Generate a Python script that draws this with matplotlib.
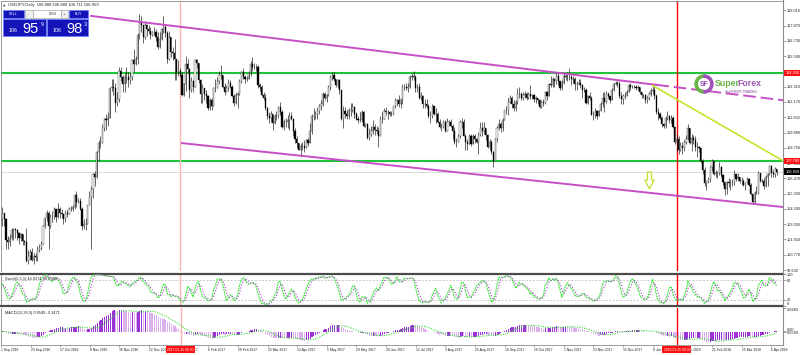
import numpy as np
import pandas as pd
import matplotlib
matplotlib.use("Agg")
import matplotlib.pyplot as plt
from matplotlib.lines import Line2D
from matplotlib.patches import Rectangle, Wedge
from matplotlib.path import Path
from matplotlib.transforms import blended_transform_factory as blend

plt.rcParams["font.family"] = ["Liberation Sans", "DejaVu Sans"]

W, H = 800, 355

# ── USDJPY daily bars from 1 Sep 2016, one row per month ─────────────────────
first_open = 103.0
closes = [
    103.4, 103.9, 103.4, 101.9, 101.7, 102.0, 102.6, 102.7, 102.6, 102.4, 102.0, 102.3, 101.8, 101.7, 100.3, 100.7, 101.0, 100.4, 100.7, 100.6, 101.1, 101.3,
    101.6, 102.9, 103.5, 103.9, 102.9, 103.6, 103.6, 104.2, 103.6, 104.2, 103.9, 103.8, 103.4, 103.9, 103.8, 104.2, 104.2, 104.3, 105.2, 104.7, 104.8,
    104.2, 102.9, 103.1, 103.1, 104.5, 105.1, 105.7, 106.8, 106.6, 108.4, 109.1, 109.1, 110.2, 110.9, 110.8, 111.0, 113.2, 113.3, 113.2, 112.1, 112.4, 114.5,
    114.0, 113.5, 114.0, 114.0, 113.8, 114.0, 115.3, 115.0, 115.4, 117.2, 118.1, 117.9, 117.0, 117.9, 117.6, 117.5, 117.2, 117.4, 117.4, 117.0, 116.3, 116.9,
    117.6, 117.8, 117.3, 115.4, 117.0, 115.9, 115.8, 115.4, 114.4, 114.5, 114.2, 112.7, 113.5, 115.0, 114.6, 113.1, 113.7, 113.3, 115.3, 115.1, 113.8, 112.8,
    113.2, 112.8, 112.6, 111.7, 112.3, 111.9, 113.2, 113.2, 113.7, 114.2, 114.2, 113.3, 112.9, 113.2, 113.6, 113.3, 112.6, 112.1, 112.7, 112.8,
    113.7, 114.4, 114.0, 113.9, 113.9, 114.3, 115.0, 114.8, 114.8, 114.8, 113.4, 113.3, 112.7, 112.5, 111.7, 111.1, 111.0, 111.3, 110.6, 111.1, 111.1, 111.8, 111.4,
    110.3, 110.7, 110.7, 110.8, 111.1, 110.9, 110.0, 109.4, 109.1, 108.6, 108.9, 108.9, 108.7, 109.3, 109.1, 110.0, 111.1, 111.1, 111.3, 111.5,
    111.9, 112.0, 112.8, 112.5, 112.7, 113.3, 114.0, 114.2, 113.9, 113.4, 113.8, 113.1, 110.9, 111.5, 111.3, 111.1, 111.6, 111.6, 111.8, 111.3, 110.9, 110.8, 110.8,
    111.4, 110.4, 110.5, 109.5, 109.8, 110.0, 110.3, 110.1, 110.0, 109.6, 110.9, 110.9, 111.5, 111.4, 111.4, 111.3, 111.3, 111.9, 112.3, 112.3, 112.0, 112.4,
    113.3, 113.3, 113.2, 113.3, 114.0, 114.1, 114.0, 113.2, 113.3, 112.5, 112.6, 112.0, 112.0, 111.9, 111.1, 111.1, 111.9, 111.3, 111.3, 110.7, 110.3,
    110.3, 110.7, 110.0, 110.7, 110.7, 110.4, 110.0, 109.2, 109.2, 109.6, 110.7, 110.7, 109.6, 109.2, 109.0, 109.6, 109.0, 109.6, 109.4, 109.2, 109.7, 110.2, 110.0,
    110.2, 109.7, 108.8, 109.2, 108.4, 107.8, 109.4, 110.2, 110.5, 110.2, 110.8, 111.6, 111.6, 112.2, 112.5, 112.0, 111.7, 112.2, 112.8, 112.8, 112.5,
    112.7, 112.8, 112.5, 112.8, 112.6, 112.7, 112.4, 112.5, 112.3, 111.8, 112.2, 112.1, 112.9, 112.6, 113.5, 113.4, 113.9, 113.7, 114.1, 113.7, 113.2, 113.6,
    114.1, 114.0, 114.0, 114.0, 113.9, 113.9, 113.5, 113.5, 113.6, 113.4, 113.1, 113.1, 112.1, 112.6, 112.5, 111.2, 111.2, 111.5, 111.1, 111.5, 112.0, 112.5,
    112.2, 112.8, 112.6, 112.3, 113.1, 113.5, 113.6, 113.5, 112.6, 112.4, 112.6, 112.6, 112.9, 113.4, 113.3, 113.3, 113.3, 113.2, 113.3, 112.9, 112.7,
    112.7, 112.3, 112.5, 112.8, 113.0, 113.1, 112.6, 111.4, 111.3, 111.0, 110.5, 110.4, 111.0, 111.1, 110.8, 111.0, 110.3, 109.2, 109.4, 108.6, 108.9, 108.7, 109.2,
    109.4, 110.2, 109.1, 109.5, 109.3, 108.8, 108.8, 108.7, 107.8, 107.1, 106.1, 106.3, 106.4, 107.3, 107.8, 106.8, 106.9, 106.9, 107.3, 106.7,
    106.2, 105.7, 106.2, 106.1, 106.1, 106.2, 106.8, 106.4, 106.6, 106.3, 106.3, 106.0, 106.1, 106.4, 106.0, 105.3, 104.7, 105.4, 105.4, 106.9, 106.3, 106.3,
    105.9, 106.6, 106.8, 107.4, 106.9, 106.8, 107.2, 106.96,
]
highs = [
    103.8, 104.3, 103.9, 103.5, 102.2, 102.3, 102.8, 102.8, 102.8, 102.7, 102.5, 102.4, 102.3, 101.9, 102.8, 101.1, 101.2, 101.3, 100.9, 100.9, 101.4, 101.6,
    101.8, 103.0, 103.5, 104.1, 104.0, 103.8, 104.0, 104.3, 104.2, 104.6, 104.3, 104.2, 103.9, 104.1, 104.1, 104.3, 104.4, 104.5, 105.3, 105.5, 105.0,
    105.0, 104.3, 103.4, 103.5, 104.5, 105.5, 105.9, 106.9, 107.0, 108.5, 109.3, 109.6, 110.5, 111.0, 111.3, 111.4, 113.2, 113.9, 113.9, 113.6, 112.9, 114.8,
    114.8, 114.2, 114.3, 114.8, 114.4, 114.3, 115.4, 116.1, 115.6, 117.3, 118.7, 118.6, 117.9, 118.2, 118.0, 117.9, 117.8, 117.5, 117.8, 117.6, 117.4, 117.4,
    117.7, 118.6, 118.0, 117.5, 117.5, 117.0, 116.3, 116.9, 115.2, 115.3, 114.7, 114.4, 113.6, 115.6, 115.4, 114.7, 114.0, 113.8, 115.4, 115.4, 115.1, 113.9,
    113.5, 113.2, 113.1, 112.7, 112.5, 112.5, 113.3, 113.9, 114.0, 114.5, 114.9, 114.2, 113.6, 113.4, 113.9, 113.8, 113.4, 112.8, 112.9, 112.9,
    113.9, 114.5, 114.7, 114.2, 114.1, 114.5, 115.2, 115.5, 115.1, 115.0, 114.9, 113.6, 113.4, 112.9, 112.8, 111.8, 111.4, 111.5, 111.3, 111.3, 111.5, 111.9, 112.2,
    111.6, 110.9, 111.0, 111.2, 111.4, 111.4, 111.0, 110.2, 109.6, 109.1, 109.1, 109.2, 109.3, 109.4, 109.5, 110.6, 111.3, 111.7, 111.5, 111.8,
    112.0, 112.3, 112.9, 112.9, 112.8, 113.4, 114.2, 114.4, 114.4, 113.9, 113.9, 113.9, 113.1, 111.9, 111.8, 111.6, 111.7, 112.1, 112.1, 111.9, 111.4, 111.1, 111.4,
    111.6, 111.5, 110.6, 110.6, 110.2, 110.4, 110.8, 110.5, 110.4, 110.3, 111.1, 111.4, 111.7, 111.8, 111.6, 111.5, 111.5, 111.9, 112.5, 112.4, 112.7, 112.4,
    113.5, 113.5, 113.6, 113.6, 114.2, 114.3, 114.5, 114.2, 113.5, 113.6, 112.9, 112.7, 112.4, 112.4, 112.0, 111.5, 112.0, 111.9, 111.7, 111.4, 110.9,
    110.6, 110.8, 110.8, 111.0, 110.8, 110.9, 110.5, 110.3, 109.5, 109.8, 110.8, 111.0, 110.9, 109.8, 109.4, 109.8, 109.8, 109.8, 109.8, 109.5, 109.9, 110.7, 110.7,
    110.7, 110.1, 109.8, 109.4, 109.3, 108.5, 109.5, 110.4, 110.9, 110.7, 111.0, 111.6, 111.9, 112.5, 112.7, 112.6, 112.3, 112.3, 113.2, 113.3, 112.9,
    112.9, 113.0, 112.9, 112.9, 113.4, 112.8, 112.8, 112.6, 112.4, 112.4, 112.3, 112.4, 113.0, 113.0, 113.6, 114.1, 114.0, 113.9, 114.3, 114.4, 113.7, 113.8,
    114.3, 114.3, 114.4, 114.7, 114.2, 114.1, 114.0, 113.7, 113.9, 113.9, 113.5, 113.3, 113.2, 112.7, 112.9, 112.6, 111.5, 111.7, 111.6, 111.6, 112.2, 112.9,
    112.9, 113.0, 112.9, 112.6, 113.2, 113.6, 113.7, 113.7, 113.7, 112.9, 112.8, 112.9, 113.1, 113.5, 113.6, 113.4, 113.4, 113.4, 113.4, 113.3, 112.9,
    112.8, 112.8, 112.6, 112.9, 113.2, 113.4, 113.3, 112.8, 111.7, 111.4, 111.1, 110.6, 111.1, 111.5, 111.2, 111.2, 111.1, 110.4, 109.8, 109.6, 109.2, 109.2, 109.3,
    109.7, 110.5, 110.2, 109.8, 109.7, 109.6, 109.2, 108.9, 108.8, 107.9, 107.3, 106.3, 106.6, 107.4, 107.9, 107.8, 107.1, 107.0, 107.7, 107.4,
    106.8, 106.1, 106.3, 106.5, 106.4, 106.4, 107.1, 106.8, 106.9, 106.6, 106.6, 106.4, 106.2, 106.6, 106.5, 106.1, 105.3, 105.5, 105.9, 107.0, 106.9, 106.4,
    106.5, 106.7, 106.9, 107.5, 107.5, 107.1, 107.3, 107.2,
]
lows = [
    102.8, 102.9, 102.9, 101.2, 101.2, 101.4, 101.9, 101.9, 102.0, 101.9, 101.6, 101.8, 101.5, 101.5, 100.2, 100.1, 100.4, 100.3, 100.1, 100.3, 100.3, 101.0,
    101.1, 101.6, 102.8, 103.3, 101.2, 102.8, 103.2, 103.4, 103.2, 103.5, 103.5, 103.5, 103.1, 103.2, 103.6, 103.8, 104.0, 104.0, 104.2, 104.3, 104.6,
    104.1, 102.6, 102.7, 102.6, 103.4, 104.5, 101.2, 105.0, 105.9, 106.5, 107.8, 108.7, 109.1, 110.0, 110.1, 110.4, 111.1, 113.0, 112.7, 111.4, 111.9, 112.2,
    113.7, 112.9, 112.9, 113.6, 113.3, 113.5, 113.8, 114.4, 114.9, 115.0, 116.9, 117.4, 116.6, 116.9, 117.1, 117.3, 116.9, 117.1, 117.2, 116.7, 116.1, 116.2,
    116.8, 117.3, 117.0, 115.1, 115.3, 115.5, 115.3, 113.8, 113.8, 114.1, 114.0, 112.6, 112.6, 113.0, 114.3, 112.5, 112.9, 112.9, 113.3, 114.7, 113.6, 112.1,
    112.1, 112.3, 112.1, 111.6, 111.6, 111.6, 111.9, 112.9, 113.2, 113.5, 113.9, 113.2, 112.7, 112.9, 113.0, 113.2, 112.6, 111.9, 112.0, 111.7,
    112.7, 113.6, 113.9, 113.6, 113.7, 113.9, 114.1, 114.5, 114.6, 114.5, 113.2, 113.0, 112.6, 112.3, 111.6, 110.9, 110.6, 110.7, 110.1, 110.5, 110.8, 111.0, 111.2,
    110.2, 110.1, 110.3, 110.2, 110.1, 110.8, 109.6, 109.1, 108.7, 108.6, 108.1, 108.6, 108.4, 108.7, 108.9, 109.2, 109.8, 110.8, 110.9, 110.9,
    111.3, 111.6, 111.9, 112.3, 112.2, 112.6, 113.1, 113.8, 113.7, 113.3, 113.2, 112.8, 110.8, 110.2, 111.0, 110.9, 110.9, 111.1, 111.4, 111.0, 110.8, 110.6, 110.7,
    110.7, 110.3, 110.3, 109.4, 109.3, 109.6, 109.8, 109.7, 109.8, 108.8, 109.6, 110.6, 110.9, 111.2, 110.9, 111.1, 111.1, 111.2, 111.7, 111.9, 111.8, 111.7,
    112.0, 113.1, 113.1, 112.9, 113.2, 113.8, 113.8, 112.9, 112.9, 112.4, 112.3, 111.7, 111.7, 111.7, 111.0, 110.6, 111.0, 111.2, 110.6, 110.6, 110.2,
    110.0, 110.2, 109.9, 110.0, 110.4, 110.3, 109.4, 109.0, 108.8, 109.3, 109.5, 110.2, 109.6, 108.6, 108.6, 109.0, 108.9, 109.1, 109.1, 109.1, 108.3, 109.6, 109.6,
    109.8, 109.3, 108.7, 108.6, 108.3, 107.3, 107.8, 109.2, 110.1, 109.9, 110.0, 110.8, 111.3, 111.2, 112.1, 111.7, 111.5, 111.5, 112.0, 112.5, 112.3,
    112.3, 112.5, 112.3, 112.4, 112.4, 112.4, 112.2, 112.1, 112.0, 111.7, 111.7, 111.9, 112.0, 112.3, 112.6, 113.3, 113.3, 113.3, 113.5, 113.4, 113.1, 113.1,
    113.5, 113.8, 113.7, 113.8, 113.4, 113.6, 113.1, 113.1, 113.4, 113.2, 112.5, 112.9, 112.0, 112.0, 112.3, 111.2, 110.8, 111.0, 110.9, 111.1, 111.6, 111.8,
    111.4, 112.1, 112.5, 112.1, 112.3, 113.0, 113.4, 113.3, 112.5, 112.0, 112.0, 112.4, 112.6, 112.9, 113.1, 113.2, 113.2, 113.1, 113.1, 112.8, 112.5,
    112.5, 112.1, 112.1, 112.3, 112.6, 112.8, 112.4, 111.3, 110.8, 110.9, 110.3, 110.2, 110.2, 110.8, 110.6, 110.6, 110.2, 109.0, 108.5, 108.3, 108.5, 108.3, 108.5,
    109.0, 109.3, 109.0, 108.5, 109.0, 108.5, 108.1, 108.4, 107.6, 106.8, 105.9, 105.6, 106.1, 106.2, 107.0, 106.7, 106.6, 106.5, 106.7, 106.6,
    106.0, 105.2, 105.3, 105.8, 105.6, 105.9, 106.0, 106.3, 106.3, 106.1, 106.0, 105.9, 105.6, 106.1, 105.9, 105.2, 104.6, 104.6, 105.3, 105.3, 106.2, 106.2,
    105.7, 105.8, 105.9, 106.7, 106.6, 106.6, 106.6, 106.7,
]

price_ticks = [99.63, 100.77, 101.91, 103.05, 104.19, 105.33, 106.47, 107.61, 108.75,
               109.89, 111.03, 112.17, 113.31, 114.45, 115.59, 116.73, 117.87, 119.01]
green_levels = [114.33, 107.76]
bid_price = 106.959
upper_channel = [("2016-11-09", 118.59), ("2018-01-10", 113.45)]
lower_channel = [("2017-01-17", 109.10), ("2018-03-23", 104.57)]
fan_line = [("2018-01-08", 113.40), ("2018-04-11", 108.05)]
arrow_point = ("2018-01-04", 106.31)
marker_lines = [("2017-01-16", "2017.01.16 00:00", "#ffb4b4"),
                ("2018-01-25", "2018.01.25 00:00", "#ff0000")]
date_labels = ["1 Sep 2016", "23 Sep 2016", "17 Oct 2016", "8 Nov 2016", "30 Nov 2016",
               "22 Dec 2016", "13 Jan 2017", "6 Feb 2017", "28 Feb 2017", "22 Mar 2017",
               "13 Apr 2017", "5 May 2017", "29 May 2017", "20 Jun 2017", "12 Jul 2017",
               "3 Aug 2017", "25 Aug 2017", "18 Sep 2017", "10 Oct 2017", "1 Nov 2017",
               "23 Nov 2017", "15 Dec 2017", "8 Jan 2018", "30 Jan 2018", "21 Feb 2018",
               "15 Mar 2018", "6 Apr 2018"]

# ── derived series ────────────────────────────────────────────────────────────
n = len(closes)
dates = pd.bdate_range("2016-09-01", periods=n)
x = np.arange(n)
c = np.array(closes)
o = np.r_[first_open, c[:-1]]
hi = np.maximum(np.array(highs), np.maximum(o, c))
lo = np.minimum(np.array(lows), np.minimum(o, c))


def pos(d):
    return dates.get_loc(pd.Timestamp(d))


cs, hs, ls_ = pd.Series(c), pd.Series(hi), pd.Series(lo)
hh = hs.rolling(5, min_periods=1).max()
ll = ls_.rolling(5, min_periods=1).min()
stoch_k = 100 * (cs - ll).rolling(3, min_periods=1).sum() / (hh - ll).rolling(3, min_periods=1).sum()
stoch_d = stoch_k.rolling(3, min_periods=1).mean()
macd = cs.ewm(span=12, adjust=False).mean() - cs.ewm(span=26, adjust=False).mean()
macd_sig = macd.rolling(9, min_periods=1).mean()

# ── layout (pixel rectangles of the MT4 window) ─────────────────────────────
fig = plt.figure(figsize=(W / 100, H / 100), dpi=100)


def rect(x0, y0, x1, y1):
    return [x0 / W, 1 - y1 / H, (x1 - x0) / W, (y1 - y0) / H]


ax = fig.add_axes(rect(1, 1, 783, 271))
sx = fig.add_axes(rect(1, 273.5, 783, 306))
mx = fig.add_axes(rect(1, 308, 783, 344.5))
x_lo, x_hi = 0.32, 422.35

for a in (ax, sx, mx):
    a.set_xlim(x_lo, x_hi)
    for s in a.spines.values():
        s.set_color("#8c8c8c")
        s.set_linewidth(0.6)
    a.yaxis.tick_right()
    a.tick_params(axis="x", bottom=False, labelbottom=False)
    a.tick_params(axis="y", length=1.8, width=0.4, pad=0.8, labelsize=2.8,
                  color="#606060", labelcolor="#202020")
for s in ("top", "bottom"):
    sx.spines[s].set_color("#4a4a4a")
    sx.spines[s].set_linewidth(1.6)
ax.spines["bottom"].set_visible(False)
mx.spines["top"].set_visible(False)
fig.add_artist(Line2D([783 / W] * 2, [1 - 345 / H, 1], transform=fig.transFigure,
                      color="#8c8c8c", lw=0.8))

# ── main price window ────────────────────────────────────────────────────────
ax.set_ylim(99.556, 119.705)
ax.set_yticks(price_ticks)
ax.set_yticklabels([f"{v:.3f}" for v in price_ticks])

up = c >= o
ax.vlines(x, lo, hi, color="#111111", lw=0.45, zorder=3)
ax.bar(x[up], (c - o)[up], bottom=o[up], width=0.62, color="white",
       edgecolor="#222222", lw=0.25, zorder=4)
ax.bar(x[~up], (o - c)[~up], bottom=c[~up], width=0.62, color="black",
       edgecolor="black", lw=0.25, zorder=4)

ax.axhline(bid_price, color="#d4d4d4", lw=0.6, zorder=1)
for lvl in green_levels:
    ax.axhline(lvl, color="#1fc43a", lw=1.5, zorder=2)

mag = "#c64fc6"
(ua, pa), (ub, pb) = [(pos(d), p) for d, p in upper_channel]
k_up = (pb - pa) / (ub - ua)
ax.plot([ua, ub], [pa, pb], color=mag, lw=1.4, zorder=5)
ax.plot([ub, x_hi], [pb, pb + k_up * (x_hi - ub)], color=mag, lw=1.4,
        ls=(0, (6.5, 2.5)), zorder=5)
(la, qa), (lb, qb) = [(pos(d), p) for d, p in lower_channel]
k_lo = (qb - qa) / (lb - la)
ax.plot([la, x_hi], [qa, qa + k_lo * (x_hi - la)], color=mag, lw=1.4, zorder=5)
(fa, ra), (fb, rb) = [(pos(d), p) for d, p in fan_line]
k_f = (rb - ra) / (fb - fa)
ax.plot([fa, x_hi], [ra, ra + k_f * (x_hi - fa)], color="#c2e62a", lw=1.2, zorder=5)

arrow = Path([(-0.25, 1), (0.25, 1), (0.25, 0.05), (0.55, 0.05), (0, -1),
              (-0.55, 0.05), (-0.25, 0.05), (-0.25, 1)],
             [Path.MOVETO] + [Path.LINETO] * 6 + [Path.CLOSEPOLY])
ax.plot(pos(arrow_point[0]), arrow_point[1], marker=arrow, ms=12, mfc="none",
        mec="#bfe22a", mew=0.9, ls="none", zorder=6)

ax.text(0.009, 0.992, "USDJPY,Daily  106.808 106.880 106.711 106.959",
        transform=ax.transAxes, fontsize=3, va="top", color="#202020")

ytr = blend(ax.transAxes, ax.transData)
for lvl in green_levels:
    ax.text(1.003, lvl, f"{lvl:.3f}", transform=ytr, fontsize=2.8, color="white",
            va="center", ha="left", clip_on=False, zorder=8,
            bbox=dict(boxstyle="square,pad=0.35", fc="#ff1010", ec="none"))
ax.text(1.003, bid_price, f"{bid_price:.3f}", transform=ytr, fontsize=2.8,
        color="white", va="center", ha="left", clip_on=False, zorder=8,
        bbox=dict(boxstyle="square,pad=0.35", fc="black", ec="none"))

# ── stochastic window ───────────────────────────────────────────────────────
sx.set_ylim(0, 100)
sx.set_yticks([100, 80, 20, 0])
stoch_labels = sx.get_yticklabels()
stoch_labels[0].set_verticalalignment("top")
stoch_labels[-1].set_verticalalignment("bottom")
for lvl in (80, 20):
    sx.axhline(lvl, color="#b8b8b8", lw=0.5, ls=(0, (3, 2)))
sx.plot(x, stoch_k, color="#2ee82e", lw=0.8, ls=(0, (1.6, 0.7)), zorder=3)
sx.plot(x, stoch_d, color="#b040d0", lw=0.8, ls=(0, (1, 1.6)), zorder=4)
sx.text(0.005, 0.9, "Stoch(5,3,3) 44.0374 49.6704", transform=sx.transAxes,
        fontsize=2.8, va="top", color="#202020")

# ── MACD window ─────────────────────────────────────────────────────────────
rising = macd.diff().fillna(0) >= 0
mx.bar(x, macd, width=0.62, color=np.where(rising, "#9a30d6", "#dcb0ec"), lw=0, zorder=3)
mx.plot(x, macd_sig, color="#33dd33", lw=0.8, ls=(0, (1, 1.2)), zorder=4)
top = max(macd.max(), macd_sig.max()) / 0.915
mx.set_ylim(-0.54 * top, top)
mx.set_yticks([top, 0, macd.iloc[-1]])
mx.set_yticklabels([f"{top:.4f}", "0.00", f"{macd.iloc[-1]:.4f}"])
macd_labels = mx.get_yticklabels()
macd_labels[0].set_verticalalignment("top")
macd_labels[1].set_verticalalignment("bottom")
macd_labels[2].set_verticalalignment("top")
mx.text(0.005, 0.93, f"MACD(12,26,9) {macd.iloc[-1]:.4f} {macd_sig.iloc[-1]:.4f}",
        transform=mx.transAxes, fontsize=2.8, va="top", color="#202020")

mx.set_xticks([pos(s) for s in date_labels])
mx.set_xticklabels(date_labels)
mx.tick_params(axis="x", bottom=True, labelbottom=True, length=1.5, width=0.4,
               pad=1, labelsize=2.4, color="#606060", labelcolor="#202020")
for lab in mx.get_xticklabels():
    lab.set_horizontalalignment("left")

xtr = blend(mx.transData, mx.transAxes)
for d, label, col in marker_lines:
    for a in (ax, sx, mx):
        a.axvline(pos(d), color=col, lw=1.0, zorder=2, snap=True)
    mx.text(pos(d), -0.14, label, transform=xtr, fontsize=2.4, color="white",
            ha="center", va="center", clip_on=False, zorder=8,
            bbox=dict(boxstyle="square,pad=0.35", fc="#ff1010", ec="none"))

# ── overlay: one-click trading panel and logo ───────────────────────────────
ov = fig.add_axes([0, 0, 1, 1], zorder=10)
ov.set_xlim(0, W)
ov.set_ylim(H, 0)
ov.axis("off")
ov.patch.set_visible(False)

blue, blue_edge = "#1414b8", "#6a7cff"
grey, grey_edge = "#f0f0f0", "#a8a8a8"
ov.add_patch(Rectangle((3, 10), 21, 8, fc=blue, ec=blue_edge, lw=0.5))
ov.add_patch(Rectangle((25, 10), 7.5, 8, fc=grey, ec=grey_edge, lw=0.5))
ov.add_patch(Rectangle((32.5, 10), 28, 8, fc="white", ec=grey_edge, lw=0.5))
ov.add_patch(Rectangle((60.5, 10), 7.5, 8, fc=grey, ec=grey_edge, lw=0.5))
ov.add_patch(Rectangle((69, 10), 19, 8, fc=blue, ec=blue_edge, lw=0.5))
ov.add_patch(Rectangle((3, 18.5), 42.5, 17, fc=blue, ec=blue_edge, lw=0.5))
ov.add_patch(Rectangle((46.5, 18.5), 41.5, 17, fc=blue, ec=blue_edge, lw=0.5))
ov.text(13.5, 14.2, "SELL", fontsize=2.6, color="white", ha="center", va="center")
ov.text(78.5, 14.2, "BUY", fontsize=2.6, color="white", ha="center", va="center")
ov.text(28.7, 14, "-", fontsize=3, color="#303030", ha="center", va="center")
ov.text(64.2, 14, "+", fontsize=3, color="#303030", ha="center", va="center")
ov.text(57, 14.2, "0.50", fontsize=3, color="#202020", ha="right", va="center")
for x0, big, sup in ((3, "95", "9"), (46.5, "98", "3")):
    ov.text(x0 + 6, 32.5, "106", fontsize=3.8, color="white", va="baseline")
    ov.text(x0 + 19.5, 33.3, big, fontsize=10.5, color="white", va="baseline")
    ov.text(x0 + 37.5, 26, sup, fontsize=4, color="white", va="baseline")
ov.text(2.5, 5.2, "\u25b2", fontsize=2.2, color="#303030", ha="left", va="center",
        family="DejaVu Sans")

cx, cy = 704, 84
ov.add_patch(Wedge((cx, cy), 9, 90, 270, width=2.2, color="#6ab445"))
ov.add_patch(Wedge((cx, cy), 9, 270, 90, width=2.2, color="#a050b8"))
ov.text(cx, cy + 0.5, "SF", fontsize=5, fontweight="bold", color="#8e4bb0",
        ha="center", va="center")
t = ov.text(715, 88, "Super", fontsize=6.3, fontweight="bold", color="#6ab245",
            va="bottom")
ov.annotate("Forex", xy=(1, 0), xycoords=t, xytext=(-1.6, 0), textcoords="offset points",
            fontsize=6.3, fontweight="bold", color="#9b59b6", va="bottom")
ov.text(741, 92, "SUPERIOR TRADING", fontsize=2.3, color="#7a3f95",
        ha="center", va="center")

fig.savefig("out.png", dpi=100, facecolor="white")
